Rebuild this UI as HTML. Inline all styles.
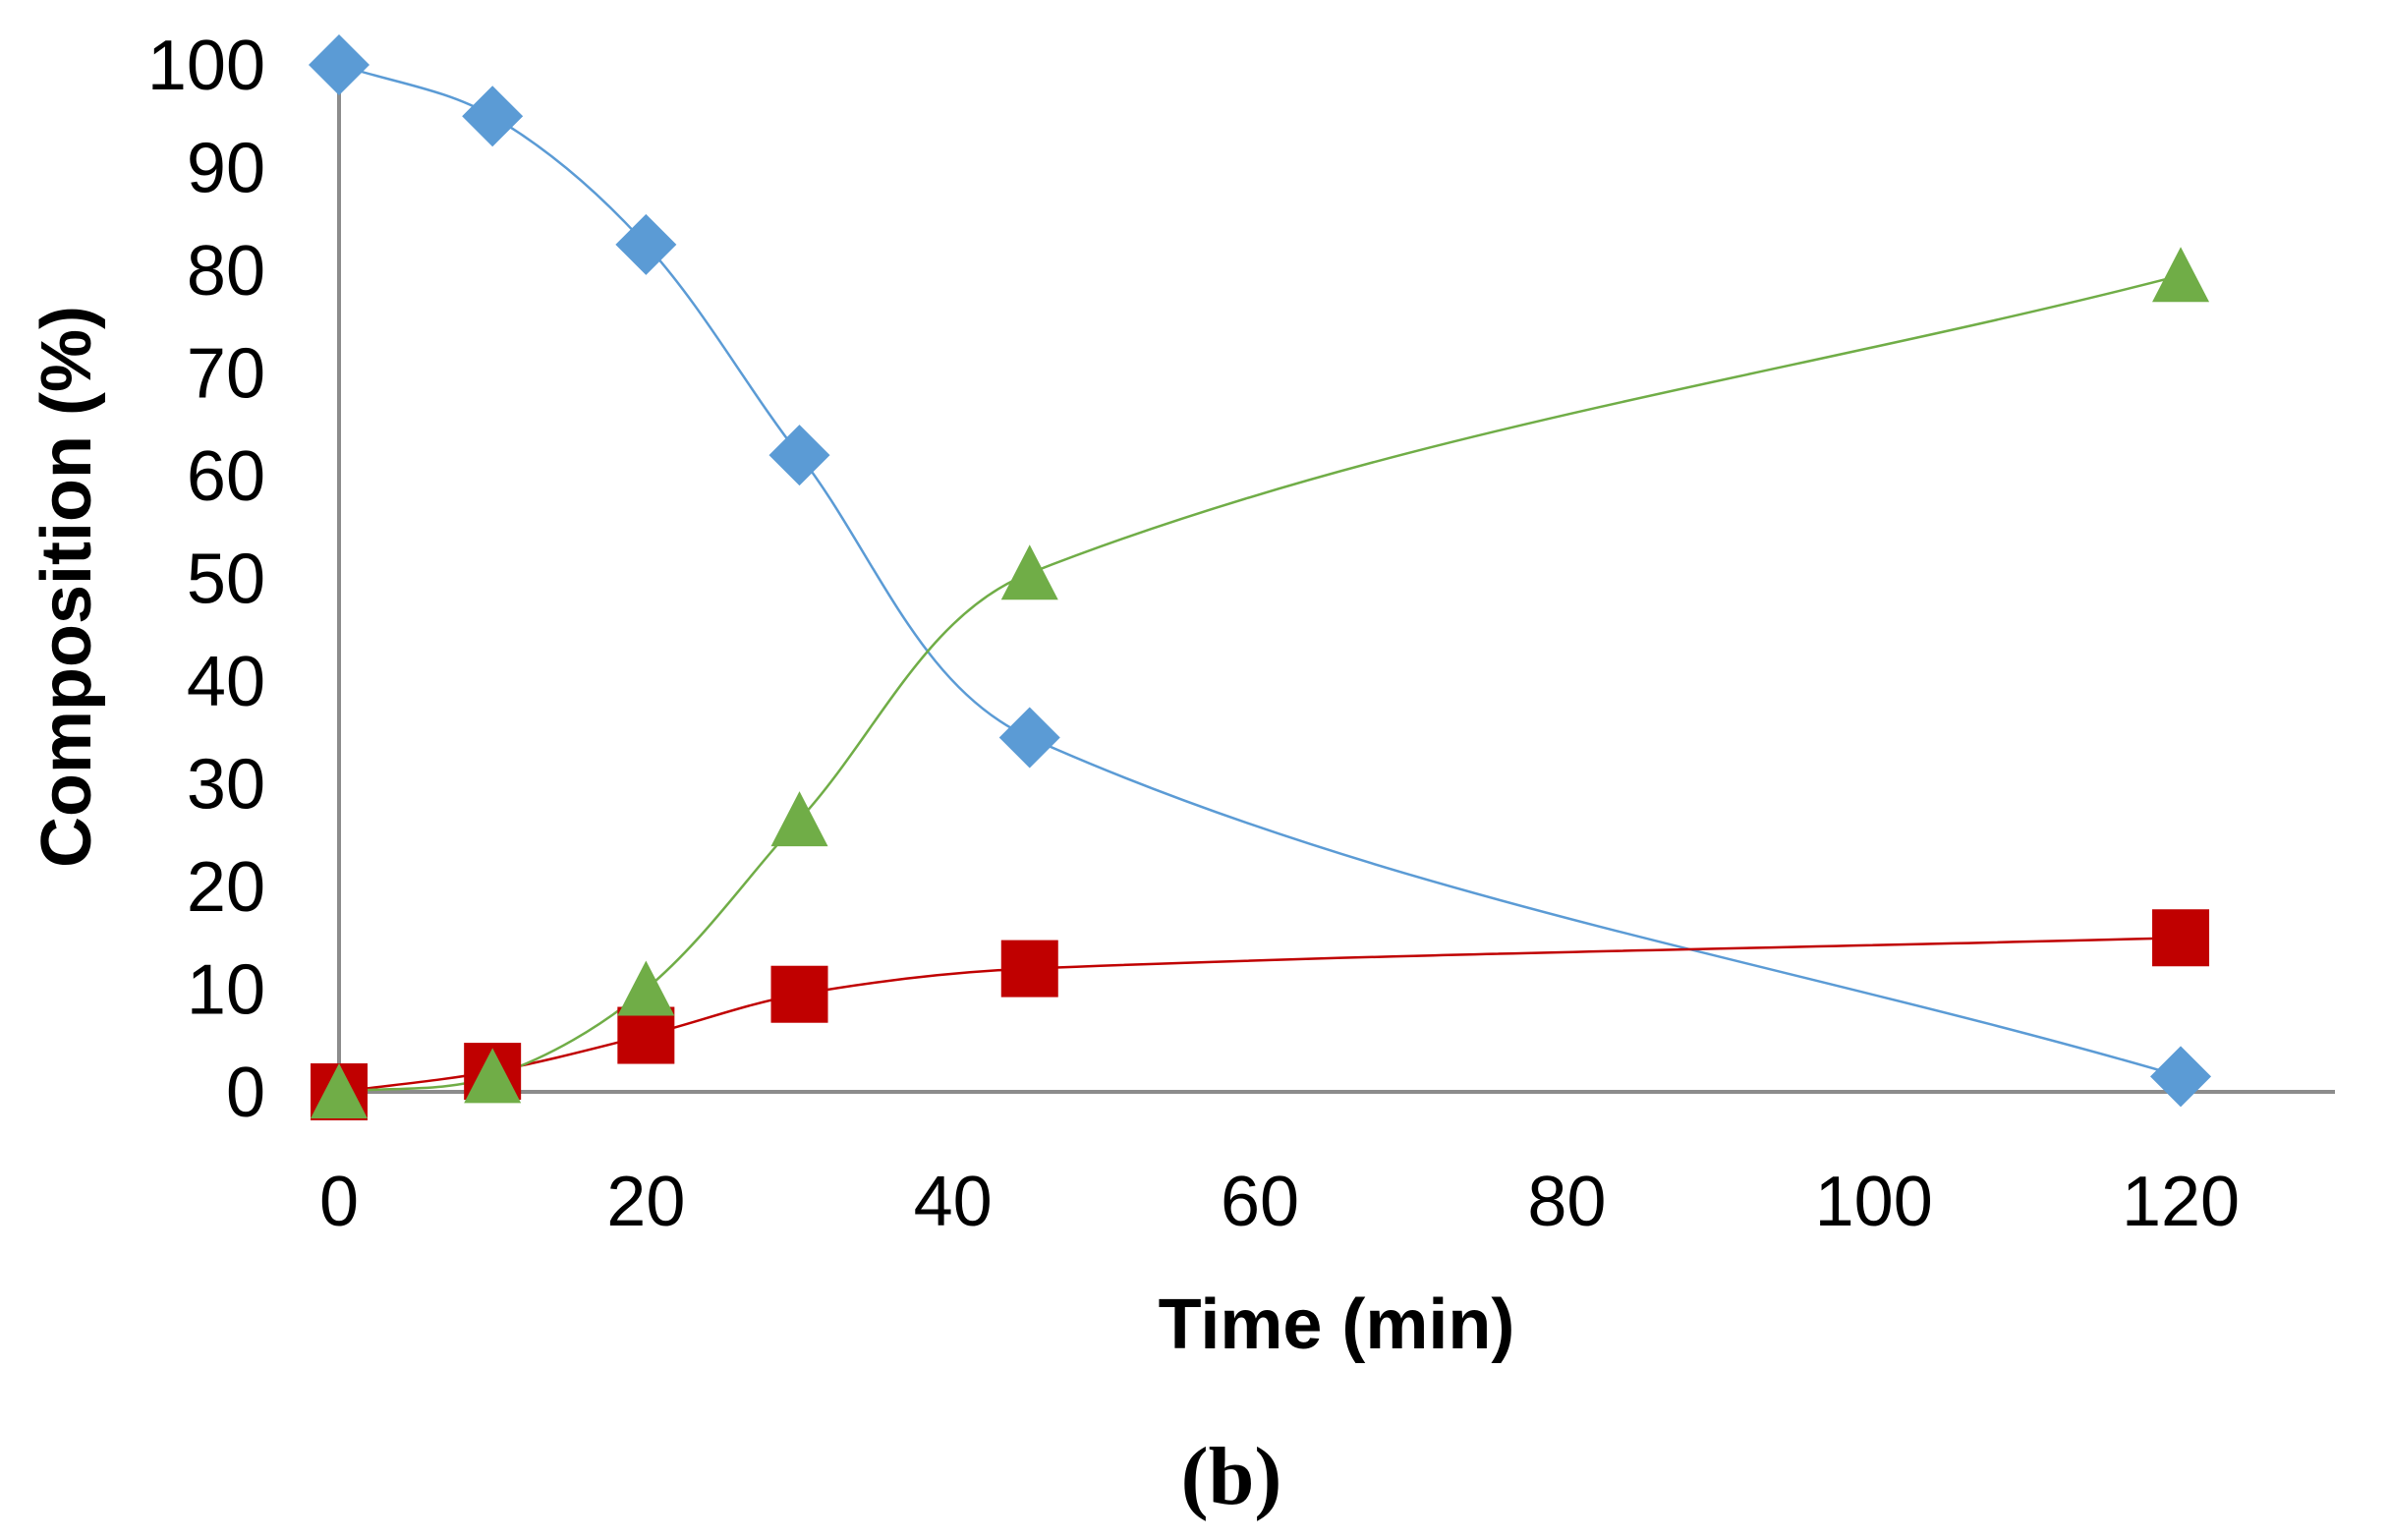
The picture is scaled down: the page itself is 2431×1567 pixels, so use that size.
<!DOCTYPE html>
<html><head><meta charset="utf-8"><style>
html,body{margin:0;padding:0;background:#fff}
svg{display:block}
</style></head><body>
<svg id="s" width="2431" height="1567" viewBox="0 0 2431 1567" xmlns="http://www.w3.org/2000/svg">
<rect width="2431" height="1567" fill="#fff"/>
<g id="axes" stroke="#8c8c8c" stroke-width="4">
<line x1="345" y1="66" x2="345" y2="1111"/>
<line x1="345" y1="1111" x2="2376" y2="1111"/>
</g>
<g id="yt" font-family="Liberation Sans, sans-serif" font-size="72" text-anchor="end" fill="#000"></g>
<g id="xt" font-family="Liberation Sans, sans-serif" font-size="72" text-anchor="middle" fill="#000"></g>
<g id="series"></g>
<text x="1360" y="1372" font-family="Liberation Sans, sans-serif" font-weight="bold" font-size="72" text-anchor="middle">Time (min)</text>
<text transform="translate(92,597) rotate(-90)" font-family="Liberation Sans, sans-serif" font-weight="bold" font-size="72" text-anchor="middle">Composition (%)</text>
<text x="1253" y="1530" font-family="Liberation Serif, serif" font-weight="bold" font-size="84" text-anchor="middle">(b)</text>
</svg>
<script>
var NS="http://www.w3.org/2000/svg";
function X(v){return 345+v*15.617;}
function Y(v){return 1111-v*10.45;}
function el(t,a,p){var e=document.createElementNS(NS,t);for(var k in a)e.setAttribute(k,a[k]);p.appendChild(e);return e;}
var yt=document.getElementById('yt'),xt=document.getElementById('xt'),g=document.getElementById('series');
for(var v=0;v<=100;v+=10){var t=el('text',{x:270,y:Y(v)+25},yt);t.textContent=v;}
for(var v=0;v<=120;v+=20){var t=el('text',{x:X(v),y:1247},xt);t.textContent=v;}
var xs=[0,10,20,30,45,120];
var S=[
 {c:'#5b9bd5',d:[100,95,82.5,62,34.5,1.5],m:'d'},
 {c:'#c00000',d:[0,2,5.5,9.5,12,15],m:'s'},
 {c:'#70ad47',d:[0,1.5,10,26.5,50.5,79.5],m:'t'}
];
function tan(pts,i){
 var a=pts[Math.max(0,i-1)],b=pts[Math.min(pts.length-1,i+1)];
 var dx=b[0]-a[0],dy=b[1]-a[1],l=Math.hypot(dx,dy)||1;return [dx/l,dy/l];
}
function path(pts){
 var d='M'+pts[0][0]+','+pts[0][1];
 for(var i=0;i<pts.length-1;i++){
  var p1=pts[i],p2=pts[i+1];
  var L=Math.hypot(p2[0]-p1[0],p2[1]-p1[1])/3;
  var t1=tan(pts,i),t2=tan(pts,i+1);
  var c1=[p1[0]+t1[0]*L,p1[1]+t1[1]*L];
  var c2=[p2[0]-t2[0]*L,p2[1]-t2[1]*L];
  d+=' C'+c1+' '+c2+' '+p2;
 }
 return d;
}
S.forEach(function(s){
 var pts=xs.map(function(x,i){return [X(x),Y(s.d[i])];});
 el('path',{d:path(pts),fill:'none',stroke:s.c,'stroke-width':2.5},g);
 s.pts=pts;
});
S.forEach(function(s){
 s.pts.forEach(function(p){
  var x=p[0],y=p[1];
  if(s.m=='d')el('polygon',{points:(x-31)+','+y+' '+x+','+(y-31)+' '+(x+31)+','+y+' '+x+','+(y+31),fill:s.c},g);
  if(s.m=='s')el('rect',{x:x-29,y:y-29,width:58,height:58,fill:s.c},g);
  if(s.m=='t')el('polygon',{points:(x-29)+','+(y+27)+' '+x+','+(y-29)+' '+(x+29)+','+(y+27),fill:s.c},g);
 });
});
</script>
</body></html>
